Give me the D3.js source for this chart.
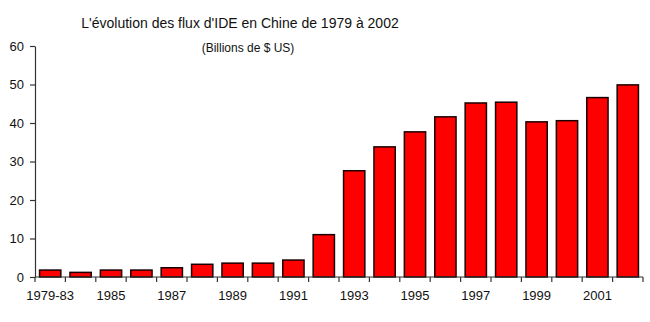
<!DOCTYPE html>
<html><head><meta charset="utf-8">
<script src="https://cdn.jsdelivr.net/npm/d3@7"></script>
<style>body{margin:0;background:#fff}svg{display:block}text{font-family:Arial,"Liberation Sans",sans-serif;fill:#111}</style>
</head><body><svg id="c" width="650" height="322"></svg>
<script>
const categories = ["1979-83","1984","1985","1986","1987","1988","1989","1990","1991","1992","1993","1994","1995","1996","1997","1998","1999","2000","2001","2002"];
const values = [1.8,1.2,1.8,1.8,2.4,3.3,3.6,3.6,4.4,11.0,27.6,33.8,37.7,41.6,45.2,45.4,40.3,40.6,46.6,49.9];
const xTickLabels = ["1979-83","1985","1987","1989","1991","1993","1995","1997","1999","2001"];
const yTicks = [0,10,20,30,40,50,60];
const title = "L'évolution des flux d'IDE en Chine de 1979 à 2002";
const subtitle = "(Billions de $ US)";

const svg = d3.select("#c");
const x = d3.scaleBand().domain(categories).range([35,643]).paddingInner(0.3).paddingOuter(0.15);
const y = d3.scaleLinear().domain([0,60]).range([277,46]);

svg.append("text").attr("x",240).attr("y",28).attr("text-anchor","middle").attr("font-size",14).text(title);
svg.append("text").attr("x",248).attr("y",52).attr("text-anchor","middle").attr("font-size",12).text(subtitle);

svg.append("g").selectAll("rect").data(values).join("rect")
  .attr("x",(d,i)=>x(categories[i]))
  .attr("width",x.bandwidth())
  .attr("y",d=>y(d))
  .attr("height",d=>y(0)-y(d))
  .attr("fill","#ff0000").attr("stroke","#1a0000").attr("stroke-width",1.5);

const axisColor = "#333";
// y axis
const ya = svg.append("g").attr("transform","translate(35,0)")
  .call(d3.axisLeft(y).tickValues(yTicks).tickSize(5).tickPadding(6).tickSizeOuter(0));
ya.select(".domain").attr("stroke",axisColor).attr("stroke-width",1.2);
ya.selectAll(".tick line").attr("stroke",axisColor).attr("stroke-width",1.2);
ya.selectAll(".tick text").attr("font-size",13).attr("font-family","Arial, 'Liberation Sans', sans-serif").attr("fill","#111");

// x axis: line + boundary ticks
const xa = svg.append("g");
xa.append("line").attr("x1",35).attr("x2",643).attr("y1",y(0)).attr("y2",y(0)).attr("stroke",axisColor).attr("stroke-width",1.2);
const step = x.step();
const bounds = d3.range(categories.length+1).map(i => i===categories.length ? 643 : x(categories[i]) - x.paddingInner()*step/2 );
xa.selectAll("line.t").data(bounds).join("line").attr("class","t")
  .attr("x1",d=>d).attr("x2",d=>d).attr("y1",y(0)).attr("y2",y(0)+5)
  .attr("stroke",axisColor).attr("stroke-width",1.2);
xa.selectAll("text").data(xTickLabels).join("text")
  .attr("x",d=>x(d)+x.bandwidth()/2)
  .attr("y",300)
  .attr("text-anchor","middle").attr("font-size",13).text(d=>d);
</script></body></html>
